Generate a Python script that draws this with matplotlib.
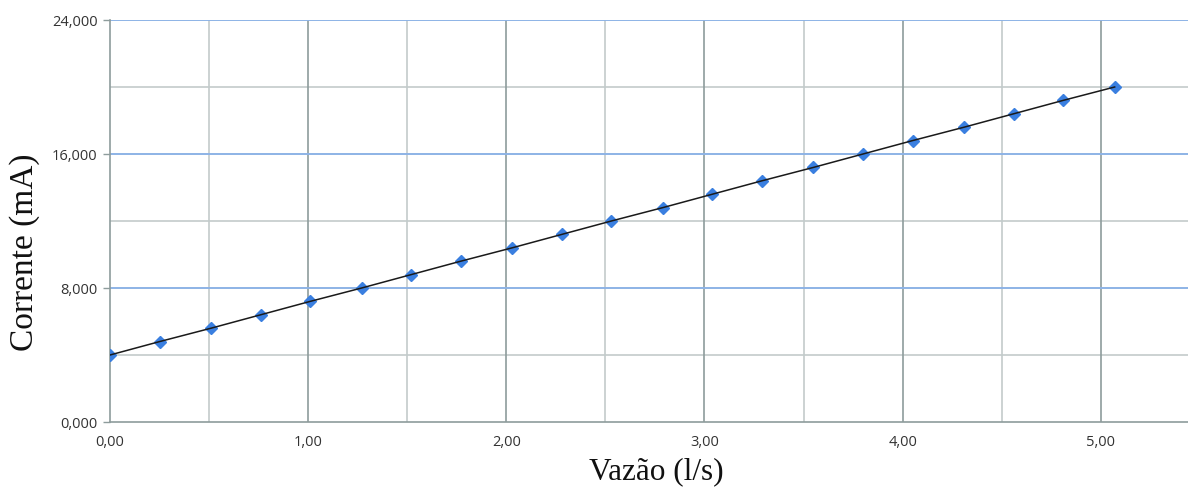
import matplotlib
matplotlib.use("Agg")
import matplotlib.pyplot as plt
from matplotlib.ticker import FixedLocator, FuncFormatter

# Flow (l/s) vs. transmitter output current (mA)
vazao = [0.00, 0.25, 0.51, 0.76, 1.01, 1.27, 1.52, 1.77, 2.03, 2.28, 2.53,
         2.79, 3.04, 3.29, 3.55, 3.80, 4.05, 4.31, 4.56, 4.81, 5.07]
corrente = [4.0, 4.8, 5.6, 6.4, 7.2, 8.0, 8.8, 9.6, 10.4, 11.2, 12.0,
            12.8, 13.6, 14.4, 15.2, 16.0, 16.8, 17.6, 18.4, 19.2, 20.0]

x_major = [0, 1, 2, 3, 4, 5]
x_minor = [0.5, 1.5, 2.5, 3.5, 4.5, 5.5]
y_major = [0, 8, 16, 24]
y_minor = [4, 12, 20]

W, H = 1188, 491
fig = plt.figure(figsize=(W / 100, H / 100), dpi=100)
ax = fig.add_axes([110 / W, (H - 422) / H, (W - 110) / W, (422 - 20) / H])

ax.set_xlim(0, 5.44)
ax.set_ylim(0, 24)

# grid lines
for xv in x_minor:
    ax.axvline(xv, color="#c3cbcb", lw=1.2, zorder=1)
for xv in x_major[1:]:
    ax.axvline(xv, color="#8e9c9c", lw=1.2, zorder=1.1)
for yv in y_minor:
    ax.axhline(yv, color="#c3cbcb", lw=1.2, zorder=1)
for yv in y_major[1:]:
    ax.axhline(yv, color="#8db3e6", lw=1.4, zorder=1.2)

ax.plot(vazao, corrente, linestyle="none", marker="D", markersize=6,
        color="#3a7fe0", markeredgecolor="#3a7fe0", zorder=3)
ax.plot(vazao, corrente, color="#1a1a1a", lw=1.1, zorder=4)

for side in ("top", "right"):
    ax.spines[side].set_visible(False)
for side in ("left", "bottom"):
    ax.spines[side].set_color("#8e9c9c")
    ax.spines[side].set_linewidth(1.2)

ax.xaxis.set_major_locator(FixedLocator(x_major))
ax.yaxis.set_major_locator(FixedLocator(y_major))
ax.xaxis.set_major_formatter(FuncFormatter(lambda v, p: f"{v:.2f}".replace(".", ",")))
ax.yaxis.set_major_formatter(FuncFormatter(lambda v, p: f"{v:.3f}".replace(".", ",")))
ax.tick_params(axis="x", length=0, pad=9, labelsize=10.5, labelcolor="#333333")
ax.tick_params(axis="y", length=5, width=1.0, color="#8e9c9c", pad=4,
               labelsize=10.5, labelcolor="#333333")
for lab in ax.get_xticklabels() + ax.get_yticklabels():
    lab.set_fontfamily("Open Sans")

fig.text(656 / W, 1 - 472 / H, "Vazão (l/s)", family="Liberation Serif",
         fontsize=22.5, ha="center", va="center", color="#111111")
fig.text(25 / W, 1 - 252 / H, "Corrente (mA)", family="Liberation Serif",
         fontsize=24, ha="center", va="center", rotation=90, color="#111111")

fig.savefig("out.png", dpi=100)
